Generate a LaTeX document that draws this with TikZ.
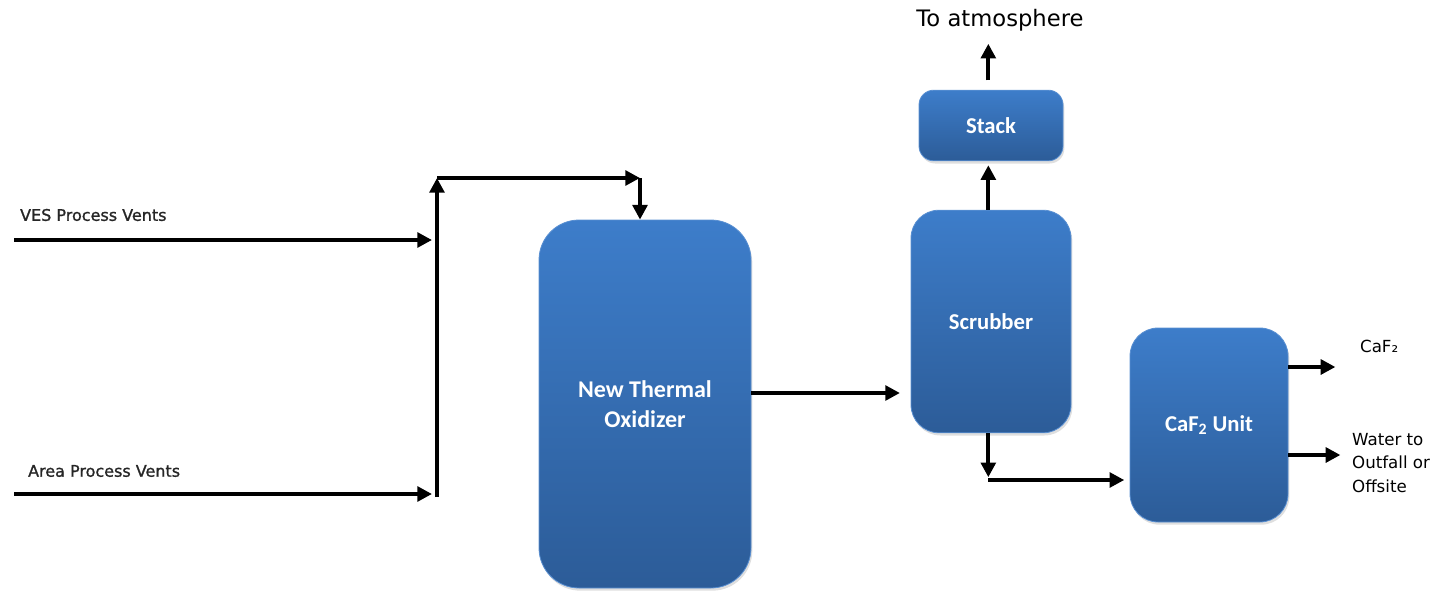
\documentclass[tikz,border=0pt]{standalone}
\usepackage{fontspec}
\setmainfont{Carlito}
\newfontfamily\plainfont{DejaVu Sans}
\newfontfamily\ventfont[FakeBold=1.2]{DejaVu Sans}
\usetikzlibrary{arrows.meta,shadows,positioning}
\definecolor{boxtop}{RGB}{61,125,202}
\definecolor{boxbot}{RGB}{44,92,152}

\begin{document}
\begin{tikzpicture}[x=0.75pt,y=-0.75pt,line width=3.2pt,>={Triangle[length=11pt,width=11pt]},font=\plainfont]
\tikzstyle{block}=[top color=boxtop, bottom color=boxbot, draw=boxtop!85!white, line width=0.6pt, text=white, align=center, inner sep=0pt, font=\bfseries\fontsize{17}{21}\selectfont, drop shadow={opacity=0.25,shadow xshift=1pt,shadow yshift=-2pt}]
\tikzstyle{lbl}=[anchor=west, inner sep=0pt, font=\ventfont\fontsize{12}{14}\selectfont, text=black!85]
\useasboundingbox (0,0) rectangle (1450,592);

% the units
\node[block, rounded corners=30pt, minimum width=159pt, minimum height=276pt, font=\bfseries\fontsize{18}{22}\selectfont] (OX) at (645,404) {New Thermal\\Oxidizer};
\node[block, rounded corners=21pt, minimum width=120pt, minimum height=167pt] (SC) at (991,321.5) {Scrubber};
\node[block, rounded corners=11pt, minimum width=108pt, minimum height=53pt][above of=SC, node distance=147pt] (ST) {Stack};
\node[block, rounded corners=21pt, minimum width=118.5pt, minimum height=145.5pt] (CU) at (1209,425) {CaF\textsubscript{2} Unit};

% labels
\node[lbl] (VESL) at (18,215) {VES Process Vents};
\node[lbl] (AREAL) at (26,471) {Area Process Vents};
\node[font=\plainfont\fontsize{17}{20}\selectfont, inner sep=0pt] (ATM) at (1000,20) {To atmosphere};
\node[lbl, font=\plainfont\fontsize{12.5}{17}\selectfont, text=black] (CAFL) at (1358,346) {CaF₂};
\node[lbl, font=\plainfont\fontsize{12.5}{17.3}\selectfont, text=black, align=left] (WATL) at (1350,463) {Water to\\Outfall or\\Offsite};

% inlets and header
\coordinate (VES) at (14,240);
\coordinate (AREA) at (14,494);
\coordinate (JB) at (437,497);
\coordinate (JT) at (437,178);
\coordinate (JR) at (640,178);
\draw[->] (VES) -- (432,240);
\draw[->] (AREA) -- (432,494);
\draw[->] (JB) -- (JT);
\draw[->] (JT) -- (JR);
\draw[->] (JR) -- (JR |- OX.north);

% gas train
\draw[->, shorten >=8pt] ([yshift=8.25pt]OX.east) -- ([yshift=8.25pt]OX.east -| SC.west);
\draw[->, shorten >=3pt] ([xshift=-2pt]SC.north) -- ([xshift=-2pt]ST.south);
\draw[->, shorten <=7pt] ([xshift=-2pt]ST.north) -- ++(0,-46);

% liquid train
\coordinate (SD) at (988,480);
\draw[->] ([xshift=-2pt]SC.south) -- ++(0,44);
\draw[->, shorten >=4pt] (SD) -- (SD -| CU.west);
\draw[->] ([yshift=43.5pt]CU.east) -- ++(47,0);
\draw[->] ([yshift=-22.5pt]CU.east) -- ++(52,0);
\end{tikzpicture}
\end{document}
